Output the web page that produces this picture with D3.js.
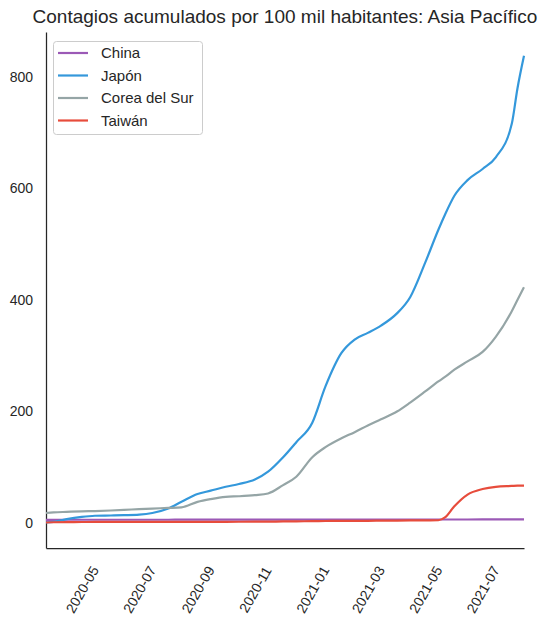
<!DOCTYPE html>
<html>
<head>
<meta charset="utf-8">
<script src="https://cdn.jsdelivr.net/npm/d3@7"></script>
<style>
  body { margin: 0; background: #fff; }
  svg text { font-family: "Liberation Sans", Arial, sans-serif; fill: #262626; }
</style>
</head>
<body>
<svg id="chart" width="541" height="622"></svg>
<script>
// Data (cases per 100k inhabitants).
var dates = ["2020-03-24", "2020-04-01", "2020-04-15", "2020-05-01", "2020-05-15", "2020-06-01",
  "2020-06-15", "2020-07-01", "2020-07-15", "2020-08-01", "2020-08-15", "2020-09-01",
  "2020-09-15", "2020-10-01", "2020-10-15", "2020-11-01", "2020-11-15", "2020-12-01",
  "2020-12-15", "2021-01-01", "2021-01-15", "2021-02-01", "2021-02-15", "2021-03-01",
  "2021-03-15", "2021-04-01", "2021-04-15", "2021-05-01", "2021-05-15", "2021-05-22",
  "2021-06-01", "2021-06-15", "2021-07-01", "2021-07-15", "2021-08-01", "2021-08-07", "2021-08-14"];
var china = [5.8, 5.8, 5.9, 5.9, 5.9, 5.9, 5.9, 5.9, 5.9, 5.9, 6.0, 6.0, 6.0, 6.0, 6.0, 6.0, 6.0, 6.1,
  6.1, 6.1, 6.2, 6.2, 6.2, 6.2, 6.2, 6.2, 6.3, 6.3, 6.3, 6.3, 6.3, 6.3, 6.4, 6.4, 6.4, 6.5, 6.5];
var japon = [1, 2, 7, 11, 13, 13.5, 14, 15, 18, 26, 38, 52, 58, 65, 70, 78, 92, 118,
  145, 180, 245, 305, 329, 341, 354, 376, 405, 467, 526, 553, 587, 615, 635, 656, 716, 779, 838];
var corea = [18, 19, 20, 21, 21.5, 22.5, 23.5, 25, 26, 27, 28, 38, 43, 47, 48, 50, 53, 68,
  83, 118, 136, 152, 163, 175, 186, 200, 216, 236, 254, 262, 275, 290, 307, 334, 380, 400, 423];
var taiwan = [0.9, 1.4, 1.7, 1.8, 1.9, 1.9, 1.9, 1.9, 1.9, 2.0, 2.0, 2.1, 2.1, 2.2, 2.3, 2.4, 2.5, 2.8,
  3.0, 3.4, 3.6, 3.9, 3.9, 4.0, 4.2, 4.4, 4.6, 4.7, 5, 10, 30, 51, 61, 65, 66.5, 67, 67];

var seriesNames = ["China", "Japón", "Corea del Sur", "Taiwán"];
var seriesColors = ["#9b59b6", "#3498db", "#95a5a6", "#e74c3c"];
var yTicks = [0, 200, 400, 600, 800];
var xTicks = ["2020-05", "2020-07", "2020-09", "2020-11", "2021-01", "2021-03", "2021-05", "2021-07"];
var titleText = "Contagios acumulados por 100 mil habitantes: Asia Pacífico";

var parseDay = d3.timeParse("%Y-%m-%d");
var parseMonth = d3.timeParse("%Y-%m");
var dayValues = dates.map(parseDay);
var allSeries = [china, japon, corea, taiwan];

var svg = d3.select("#chart");

// Plot area (names avoid the window.top global)
var plotLeft = 46, plotRight = 524, plotTop = 32, plotBottom = 548;

var xScale = d3.scaleTime()
  .domain(d3.extent(dayValues))
  .range([plotLeft, plotRight]);

var yScale = d3.scaleLinear()
  .domain([-44.8, 880.7])
  .range([plotBottom, plotTop]);

// Title
svg.append("text")
  .attr("x", (plotLeft + plotRight) / 2)
  .attr("y", 23)
  .attr("text-anchor", "middle")
  .style("font-size", "19px")
  .text(titleText);

// Y axis
var yAxisG = svg.append("g")
  .attr("transform", "translate(" + plotLeft + ",0)")
  .call(d3.axisLeft(yScale).tickValues(yTicks).tickSize(0).tickSizeOuter(0).tickPadding(13));
yAxisG.select(".domain").attr("stroke", "#262626").attr("stroke-width", 1.25);
yAxisG.selectAll("text").style("font-size", "14px").attr("fill", "#262626");

// X axis
var xAxisG = svg.append("g")
  .attr("transform", "translate(0," + plotBottom + ")")
  .call(d3.axisBottom(xScale)
    .tickValues(xTicks.map(parseMonth))
    .tickFormat(d3.timeFormat("%Y-%m"))
    .tickSize(0).tickSizeOuter(0));
xAxisG.select(".domain").attr("stroke", "#262626").attr("stroke-width", 1.25);
xAxisG.selectAll("text")
  .style("font-size", "14px")
  .attr("fill", "#262626")
  .attr("text-anchor", "middle")
  .attr("y", 0)
  .attr("dy", "0.35em")
  .attr("transform", "translate(0,41.5) rotate(-60)");

// Lines
var line = d3.line()
  .x(function (d, i) { return xScale(dayValues[i]); })
  .y(function (d) { return yScale(d); })
  .curve(d3.curveMonotoneX);

svg.append("g")
  .selectAll("path")
  .data(allSeries)
  .enter()
  .append("path")
  .attr("d", line)
  .attr("fill", "none")
  .attr("stroke", function (d, i) { return seriesColors[i]; })
  .attr("stroke-width", 2.2)
  .attr("stroke-linejoin", "round");

// Legend
var legend = svg.append("g");
legend.append("rect")
  .attr("x", 53.5).attr("y", 41.5)
  .attr("width", 149).attr("height", 93)
  .attr("rx", 3)
  .attr("fill", "#fff").attr("fill-opacity", 0.8)
  .attr("stroke", "#cccccc");

var items = legend.selectAll(".item")
  .data(seriesNames)
  .enter()
  .append("g")
  .attr("class", "item")
  .attr("transform", function (d, i) { return "translate(0," + (53 + i * 22.5) + ")"; });
items.append("line")
  .attr("x1", 58).attr("x2", 88)
  .attr("stroke", function (d, i) { return seriesColors[i]; })
  .attr("stroke-width", 2.2);
items.append("text")
  .attr("x", 101)
  .attr("dy", "0.35em")
  .style("font-size", "15px")
  .text(function (d) { return d; });
</script>
</body>
</html>
